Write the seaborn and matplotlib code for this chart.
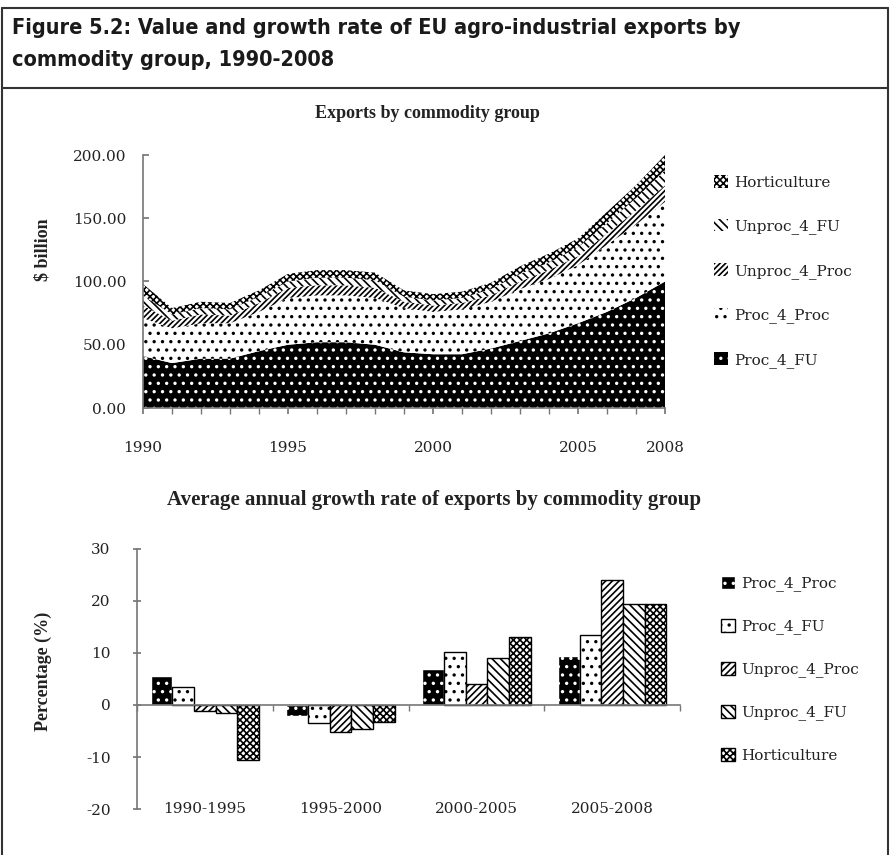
import numpy as np
import pandas as pd
import matplotlib
matplotlib.use('Agg')
import matplotlib.pyplot as plt
from matplotlib.lines import Line2D
import seaborn as sns

# Exports by commodity group ($ billion), stacked bottom -> top
years = list(range(1990, 2009))
proc_4_fu = [41, 35.5, 39, 39, 45, 50, 52, 52, 50, 44, 42.5, 42.5, 47, 53, 59, 67, 76, 87, 100]
proc_4_proc = [30, 27.5, 28, 28, 31, 37, 37, 37, 37, 35, 33.5, 35.5, 37, 41, 43, 46, 53, 58, 63]
unproc_4_proc = [10, 6, 7, 6, 7, 8, 8, 8, 8, 5, 5, 5, 5, 6, 7, 7, 9, 11, 13]
unproc_4_fu = [8, 5, 5, 5, 5, 5, 6, 6, 6, 4, 4, 4, 5, 6, 6, 7, 8, 10, 12]
horticulture = [9, 5, 5, 5, 5, 6, 6, 6, 6, 5, 5, 5, 5, 6, 7, 7, 9, 10, 12]
area_labels = ['Proc_4_FU', 'Proc_4_Proc', 'Unproc_4_Proc', 'Unproc_4_FU', 'Horticulture']
year_ticks = [1990, 1995, 2000, 2005, 2008]

# Average annual growth rate (%)
periods = ['1990-1995', '1995-2000', '2000-2005', '2005-2008']
bar_groups = ['Proc_4_Proc', 'Proc_4_FU', 'Unproc_4_Proc', 'Unproc_4_FU', 'Horticulture']
g_proc_4_proc = [5.5, -2.2, 6.9, 9.5]
g_proc_4_fu = [3.4, -3.4, 10.2, 13.4]
g_unproc_4_proc = [-1.1, -5.1, 4.0, 24.0]
g_unproc_4_fu = [-1.6, -4.7, 9.0, 19.5]
g_horticulture = [-10.5, -3.3, 13.0, 19.5]

sns.set_theme(style='white')
plt.rcParams['font.family'] = ['DejaVu Serif']
plt.rcParams['axes.unicode_minus'] = False
plt.rcParams['hatch.linewidth'] = 1.2

W, H = 890, 855
fig = plt.figure(figsize=(W / 100, H / 100), dpi=100)


def fx(px):
    return px / W


def fy(py):
    return 1 - py / H


AXIS_C = '#777777'
TXT = '#222222'
serif_bold = dict(family='Liberation Serif', weight='bold', color=TXT)

# ---------- frame and header ----------
for xs, ys in [([fx(2), fx(2)], [0, fy(8)]),
               ([fx(888), fx(888)], [0, fy(8)]),
               ([fx(2), fx(888)], [fy(8), fy(8)]),
               ([fx(2), fx(888)], [fy(88), fy(88)])]:
    fig.add_artist(Line2D(xs, ys, transform=fig.transFigure, color='#333', lw=1.5))

title_font = dict(family=['Liberation Sans Narrow', 'DejaVu Sans'], weight='bold',
                  stretch='condensed', size=15.6, color='#1a1a1a')
fig.text(fx(12), fy(28), 'Figure 5.2: Value and growth rate of EU agro-industrial exports by',
         va='center', ha='left', **title_font)
fig.text(fx(12), fy(60), 'commodity group, 1990-2008', va='center', ha='left', **title_font)

# ---------- top: stacked area ----------
ax1 = fig.add_axes([fx(143), fy(408), fx(665) - fx(143), fy(155) - fy(408)])
layers = ax1.stackplot(years, proc_4_fu, proc_4_proc, unproc_4_proc, unproc_4_fu, horticulture,
                       labels=area_labels,
                       colors=['black', 'white', 'white', 'white', 'white'])
area_hatch = ['..', '..', '//////', '\\\\\\\\', 'xxxxx']
area_edge = ['white', 'black', 'black', 'black', 'black']
for poly, h, ec in zip(layers, area_hatch, area_edge):
    poly.set_hatch(h)
    poly.set_edgecolor(ec)
    poly.set_linewidth(0)

ax1.set_xlim(1990, 2008)
ax1.set_ylim(0, 200)
ax1.set_yticks(np.arange(0, 201, 50))
ax1.set_yticklabels([f'{v:.2f}' for v in np.arange(0, 201, 50)])
ax1.set_xticks(year_ticks)
ax1.set_xticks(years, minor=True)
ax1.tick_params(axis='x', which='both', direction='out', length=4, color=AXIS_C, pad=20,
                labelsize=11, labelcolor=TXT, bottom=True)
ax1.tick_params(axis='y', direction='in', length=4, color=AXIS_C, pad=12,
                labelsize=11, labelcolor=TXT, left=True)
for s in ['top', 'right']:
    ax1.spines[s].set_visible(False)
for s in ['left', 'bottom']:
    ax1.spines[s].set_color(AXIS_C)
    ax1.spines[s].set_linewidth(1.2)

fig.text(fx(427), fy(113), 'Exports by commodity group', ha='center', va='center', size=13, **serif_bold)
fig.text(fx(43), fy(250), '$ billion', ha='center', va='center', rotation=90, size=13, **serif_bold)

h1, l1 = ax1.get_legend_handles_labels()
fig.legend(h1[::-1], l1[::-1], loc='upper left', bbox_to_anchor=(fx(714), fy(175)),
           frameon=False, fontsize=11, handlelength=0.9, handleheight=0.9,
           handletextpad=0.45, labelspacing=1.9, borderpad=0, borderaxespad=0,
           labelcolor=TXT)

# ---------- bottom: grouped bars ----------
growth = pd.DataFrame({
    'period': periods * 5,
    'group': [g for g in bar_groups for _ in periods],
    'value': g_proc_4_proc + g_proc_4_fu + g_unproc_4_proc + g_unproc_4_fu + g_horticulture,
})

ax2 = fig.add_axes([fx(137), fy(809), fx(680) - fx(137), fy(549) - fy(809)])
sns.barplot(data=growth, x='period', y='value', hue='group', order=periods, hue_order=bar_groups,
            palette=['black', 'white', 'white', 'white', 'white'], errorbar=None, width=0.8,
            edgecolor='black', linewidth=1, legend=False, ax=ax2)
bar_hatch = ['..', '..', '/////', '\\\\\\\\', 'xxxxx']
bar_edge = ['white', 'black', 'black', 'black', 'black']
for cont, h, ec in zip(ax2.containers, bar_hatch, bar_edge):
    for bar in cont:
        bar.set_hatch(h)
        bar.set_edgecolor(ec)

ax2.set_xlim(-0.5, 3.5)
ax2.set_ylim(-20, 30)
ax2.set_yticks(np.arange(-20, 31, 10))
ax2.set_xlabel('')
ax2.set_ylabel('')
ax2.spines['bottom'].set_position(('data', 0))
ax2.set_xticks([-0.5, 0.5, 1.5, 2.5, 3.5], minor=True)
ax2.tick_params(axis='x', which='major', length=0, pad=70, labelsize=11, labelcolor=TXT)
ax2.tick_params(axis='x', which='minor', direction='out', length=4, color=AXIS_C, bottom=True)
ax2.tick_params(axis='y', direction='inout', length=6, color=AXIS_C, pad=16,
                labelsize=11, labelcolor=TXT, left=True)
for s in ['top', 'right']:
    ax2.spines[s].set_visible(False)
for s in ['left', 'bottom']:
    ax2.spines[s].set_color(AXIS_C)
    ax2.spines[s].set_linewidth(1.2)

fig.text(fx(434), fy(500), 'Average annual growth rate of exports by commodity group',
         ha='center', va='center', size=15, **serif_bold)
fig.text(fx(43), fy(671), 'Percentage (%)', ha='center', va='center', rotation=90, size=13, **serif_bold)

h2 = [c.patches[0] for c in ax2.containers]
fig.legend(h2, bar_groups, loc='upper left', bbox_to_anchor=(fx(721), fy(576)),
           frameon=False, fontsize=11, handlelength=0.9, handleheight=0.9,
           handletextpad=0.45, labelspacing=1.8, borderpad=0, borderaxespad=0,
           labelcolor=TXT)

fig.savefig('out.png', dpi=100)
